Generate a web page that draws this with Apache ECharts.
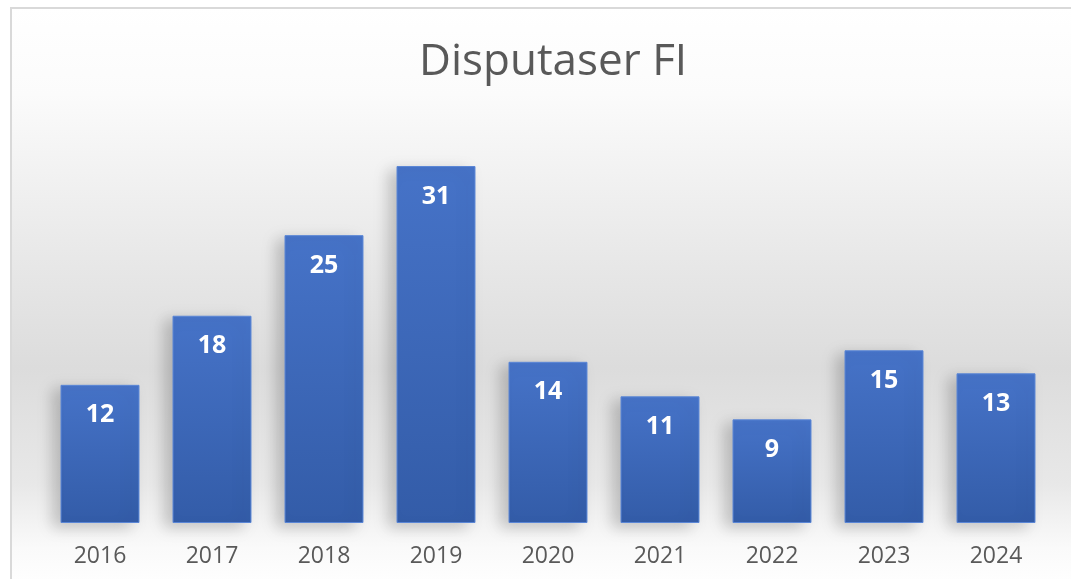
<!DOCTYPE html>
<html><head><meta charset="utf-8">
<script src="https://cdn.jsdelivr.net/npm/echarts@6/dist/echarts.min.js"></script>
<style>html,body{margin:0;padding:0;background:#fff}#c{width:1071px;height:579px}</style>
</head><body><div id="c"></div>
<script>
const titleText = "Disputaser FI";
const years = ["2016","2017","2018","2019","2020","2021","2022","2023","2024"];
const values = [12, 18, 25, 31, 14, 11, 9, 15, 13];

const chart = echarts.init(document.getElementById('c'));
chart.setOption({
  animation: false,
  backgroundColor: '#ffffff',
  graphic: [{
    type: 'rect', z: -10, silent: true,
    shape: {x: 11, y: 8, width: 1070, height: 580},
    style: {
      fill: new echarts.graphic.LinearGradient(0, 0, 0, 1, [
        {offset: 0, color: '#ffffff'},
        {offset: 0.15, color: '#fbfbfb'},
        {offset: 0.4, color: '#eaeaea'},
        {offset: 0.62, color: '#dcdcdc'},
        {offset: 0.82, color: '#e8e8e8'},
        {offset: 0.93, color: '#fafafa'},
        {offset: 1, color: '#ffffff'}
      ]),
      stroke: '#d9d9d9', lineWidth: 2
    }
  }],
  title: {
    text: titleText, left: 414, top: 35,
    textStyle: {fontFamily: 'Open Sans', fontSize: 44, fontWeight: 'normal', color: '#595959'}
  },
  grid: {left: 44, right: 19, top: 120, bottom: 56},
  xAxis: {
    type: 'category', data: years,
    axisLine: {show: false}, axisTick: {show: false},
    axisLabel: {fontFamily: 'Open Sans', fontSize: 23, color: '#595959', margin: 22}
  },
  yAxis: {type: 'value', min: 0, max: 35, show: false, splitLine: {show: false}},
  series: [{
    type: 'bar', data: values, barCategoryGap: '29.5%',
    itemStyle: {
      color: new echarts.graphic.LinearGradient(0, 0, 0, 1, [
        {offset: 0, color: '#4673c8'},
        {offset: 1, color: '#335ca8'}
      ]),
      borderColor: '#5a86d6', borderWidth: 1,
      shadowColor: 'rgba(0,0,0,0.2)', shadowBlur: 14, shadowOffsetX: -8, shadowOffsetY: 4
    },
    label: {
      show: true, position: 'insideTop', distance: 18,
      fontFamily: 'Open Sans', fontSize: 25, fontWeight: 'bold', color: '#ffffff'
    }
  }]
});
</script></body></html>
